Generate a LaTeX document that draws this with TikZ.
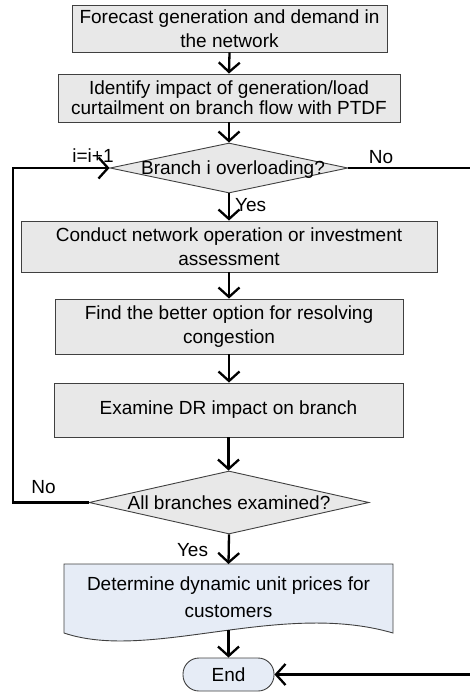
\documentclass[tikz,border=0pt]{standalone}
\usepackage{fontspec}
\setmainfont{Liberation Sans}
\usetikzlibrary{shapes.geometric,arrows.meta,calc}
\definecolor{boxgray}{RGB}{232,232,232}
\definecolor{boxblue}{RGB}{230,236,246}
\definecolor{edgegray}{RGB}{64,64,64}
\begin{document}
\begin{tikzpicture}[x=1pt,y=-1pt,
  txt/.style={font=\fontsize{19}{24}\selectfont},
  procbox/.style={draw=edgegray, line width=0.9pt, fill=boxgray, rectangle, inner sep=0pt, align=center, txt},
  decbox/.style={draw=edgegray, line width=0.9pt, fill=boxgray, diamond, inner sep=0pt},
  conn/.style={line width=2.3pt, -{Straight Barb[length=9.5pt,width=21pt]}},
  lbl/.style={inner sep=0pt, txt}]
\useasboundingbox (0,0) rectangle (470,693);

\node[procbox, minimum width=315pt, minimum height=47pt] (b1) at (229.5,28.5)
  {Forecast generation and demand in\\the network};
\node[procbox, minimum width=342pt, minimum height=48pt, font=\fontsize{19}{20}\selectfont] (b2) at (229,98)
  {Identify impact of generation/load\\curtailment on branch flow with PTDF};
\node[decbox, minimum width=238pt, minimum height=50pt, aspect=4.76] (d1) at (229,168) {};
\node[lbl] (d1t) at (233,170) {Branch i overloading?};
\node[procbox, minimum width=416pt, minimum height=51pt] (b3) at (229,246.5)
  {Conduct network operation or investment\\assessment};
\node[procbox, minimum width=348pt, minimum height=55pt] (b4) at (229,326.5)
  {Find the better option for resolving\\congestion};
\node[procbox, minimum width=349pt, minimum height=54pt] (b5) at (228.5,410)
  {Examine DR impact on branch};
\node[decbox, minimum width=280pt, minimum height=63pt, aspect=4.44] (d2) at (229,502.5) {};
\node[lbl] (d2t) at (229,503) {All branches examined?};

% document shape
\filldraw[draw=edgegray, line width=0.9pt, fill=boxblue]
  (64,564) -- (393,564) -- (393,633) .. controls (280,600) and (150,662) .. (64,633) -- cycle;
\node[lbl, align=center, font=\fontsize{19}{27}\selectfont] (b6) at (228.5,597)
  {Determine dynamic unit prices for\\customers};
\coordinate (b6top) at (228.5,564);
\coordinate (b6bot) at (228.5,630);

\node[draw=edgegray, line width=0.9pt, fill=boxblue, rounded corners=16pt,
  minimum width=91pt, minimum height=33pt, inner sep=0pt, txt] (end) at (228.5,674.5) {End};

% connectors
\draw[conn] (b1.south) -- (b2.north);
\draw[conn] (b2.south) -- (b2.south |- d1.north);
\draw[conn] (d1.south) -- (d1.south |- b3.north);
\draw[conn] (b3.south) -- (b3.south |- b4.north);
\draw[conn] (b4.south) -- (b4.south |- b5.north);
\draw[conn] (b5.south) -- (b5.south |- d2.north);
\draw[conn] (d2.south) -- (b6top);
\draw[conn] (b6bot) -- (end.north);

\coordinate (lp) at (13,502.5);
\draw[conn] (d2.west) -- (lp) |- (d1.west);
\coordinate (rp) at (474,168);
\draw[conn] (d1.east) -- (rp) |- (end.east);

% labels
\node[lbl] (l1) at (93,156) {i=i+1};
\node[lbl] (l2) at (381,157) {No};
\node[lbl, anchor=west] (l3) at (235,205) {Yes};
\node[lbl] (l4) at (43.5,487) {No};
\node[lbl] (l5) at (192.5,550) {Yes};
\end{tikzpicture}
\end{document}
